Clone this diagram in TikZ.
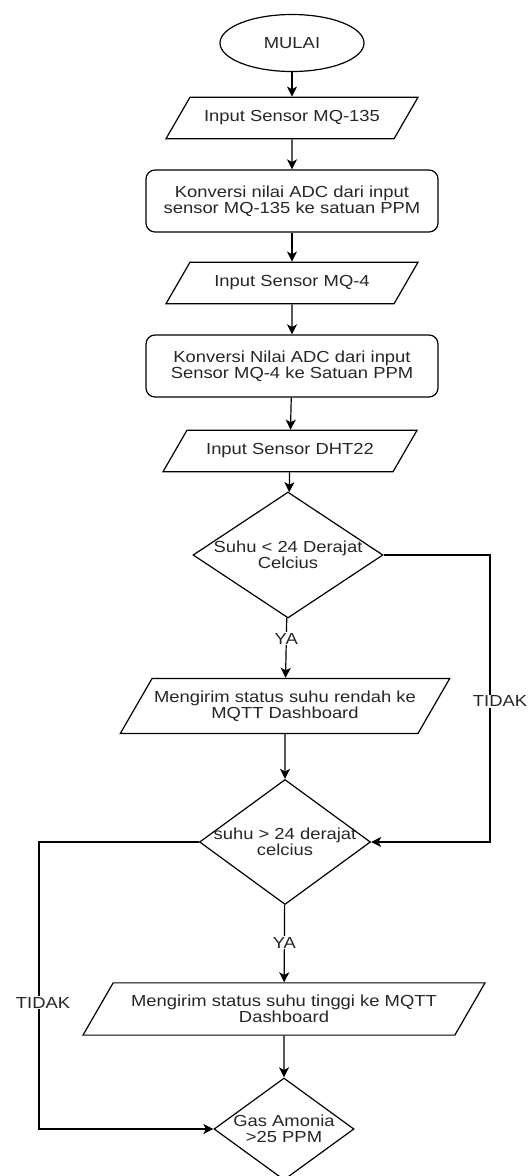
\documentclass[tikz,border=0pt]{standalone}
\usepackage{fontspec}
\setmainfont{Liberation Sans}[FakeStretch=1.15]
\usepackage{tikz}
\usetikzlibrary{arrows.meta, shapes.geometric, positioning}

\begin{document}
\begin{tikzpicture}[
                x=1pt, y=1pt,
                font=\fontsize{16}{16.5}\selectfont,
                every node/.style={text=black!85},
                terminal/.style={draw, ellipse, line width=1.2pt, minimum width=144pt, minimum height=57pt},
                io/.style={draw, trapezium, trapezium left angle=60, trapezium right angle=120,
                           trapezium stretches body, line width=1.2pt, inner xsep=2pt, inner ysep=13.5pt, align=center},
                proses/.style={draw, rounded corners=9pt, line width=1.2pt, minimum width=292pt, minimum height=62pt, align=center},
                keputusan/.style={draw, diamond, line width=1.2pt, inner sep=0pt},
                line/.style={draw, line width=1.2pt, -{Stealth[length=10pt, width=10pt, inset=2.5pt]}},
                ket/.style={fill=white, inner sep=1pt}
            ]
            \useasboundingbox (0,0) rectangle (530,-1176);

            % Start and sensor inputs
            \node[terminal] (mulai) at (292,-43) {MULAI};
            \node[io, minimum width=252pt] (mq135) at (292,-118) {Input Sensor MQ-135};
            \node[proses] (konv135) at (292,-201) {Konversi nilai ADC dari input\\sensor MQ-135 ke satuan PPM};
            \node[io, minimum width=252pt] (mq4) at (292,-283) {Input Sensor MQ-4};
            \node[proses] (konv4) at (292,-366) {Konversi Nilai ADC dari input\\Sensor MQ-4 ke Satuan PPM};
            \node[io, minimum width=254pt] (dht) at (290,-451) {Input Sensor DHT22};

            % Temperature checks
            \node[keputusan, minimum width=190pt, minimum height=126pt,
                  label={[align=center]center:Suhu < 24 Derajat\\Celcius}] (rendah) at (288,-555) {};
            \node[io, inner ysep=12pt, minimum width=327pt] (kirimrendah) at (285,-706)
                {Mengirim status suhu rendah ke\\MQTT Dashboard};
            \node[keputusan, minimum width=171pt, minimum height=125pt,
                  label={[align=center]center:suhu > 24 derajat\\celcius}] (tinggi) at (285,-842) {};
            \node[io, inner ysep=12pt, minimum width=402pt] (kirimtinggi) at (284,-1009)
                {Mengirim status suhu tinggi ke MQTT\\Dashboard};
            \node[keputusan, minimum width=140pt, minimum height=102pt,
                  label={[align=center]center:Gas Amonia\\>25 PPM}] (amonia) at (284,-1129) {};

            % Bends of the TIDAK lines
            \coordinate (kanan1) at (490,-555);
            \coordinate (kanan2) at (490,-842);
            \coordinate (kiri1) at (39,-842);
            \coordinate (kiri2) at (39,-1129);

            % Main flow
            \draw[line] (mulai) -- (mq135);
            \draw[line] (mq135) -- (konv135);
            \draw[line] (konv135) -- (mq4);
            \draw[line] (mq4) -- (konv4);
            \draw[line] (konv4) -- (dht);
            \draw[line] (dht) -- (rendah);
            \draw[line] (rendah) -- node[ket, pos=0.35] {YA} (kirimrendah);
            \draw[line] (kirimrendah) -- (tinggi);
            \draw[line] (tinggi) -- node[ket, pos=0.49] {YA} (kirimtinggi);
            \draw[line] (kirimtinggi) -- (amonia);

            % TIDAK branches
            \draw[line] (rendah.east) -- (kanan1) -- node[ket, xshift=10pt, pos=0.51] {TIDAK} (kanan2) -- (tinggi.east);
            \draw[line] (tinggi.west) -- (kiri1) -- node[ket, xshift=4pt, pos=0.56] {TIDAK} (kiri2) -- (amonia.west);
        \end{tikzpicture}
\end{document}
